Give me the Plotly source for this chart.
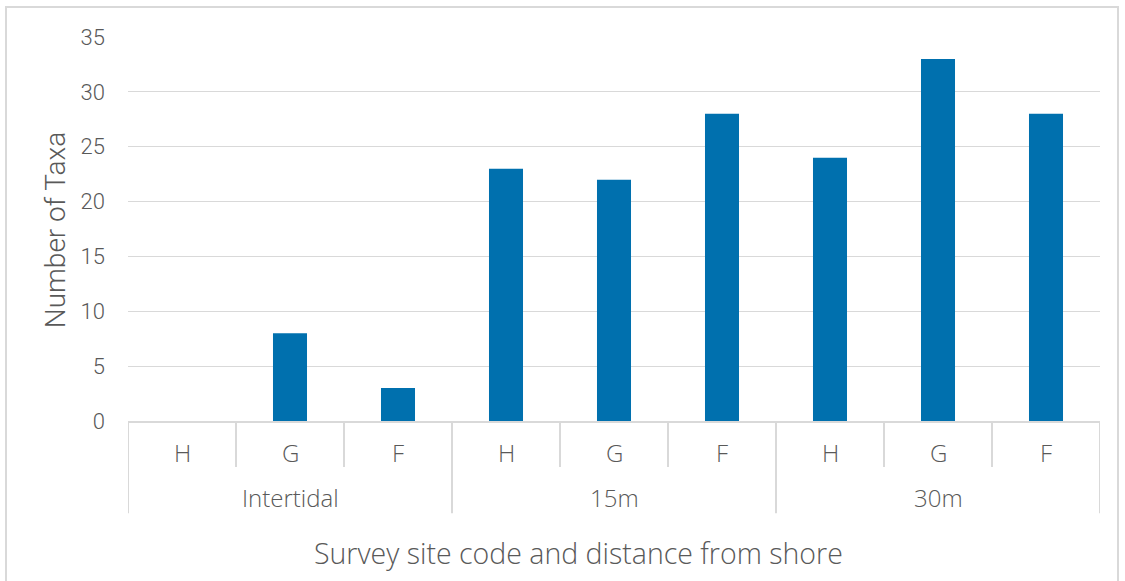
import plotly.graph_objects as go

# Survey data: site code within each distance band
distance_bands = ["Intertidal", "15m", "30m"]
site_codes = ["H", "G", "F", "H", "G", "F", "H", "G", "F"]
taxa_counts = [0, 8, 3, 23, 22, 28, 24, 33, 28]

y_ticks = [0, 5, 10, 15, 20, 25, 30, 35]

BAR_COLOR = "#0070AE"
TEXT_COLOR = "#595959"
LINE_COLOR = "#D9D9D9"
LABEL_FONT = "Open Sans"
NUM_FONT = "Roboto"
LIGHT = 300

positions = list(range(len(site_codes)))
per_band = len(site_codes) // len(distance_bands)

fig = go.Figure()
fig.add_trace(go.Bar(
    x=positions,
    y=taxa_counts,
    customdata=[[distance_bands[i // per_band], site_codes[i]] for i in positions],
    hovertemplate="%{customdata[0]} %{customdata[1]}: %{y}<extra></extra>",
    marker=dict(color=BAR_COLOR, line=dict(width=0)),
))

fig.update_layout(
    width=1125, height=581,
    margin=dict(l=128, r=25, t=37, b=160),
    paper_bgcolor="white",
    plot_bgcolor="white",
    bargap=0.685,
    showlegend=False,
    font=dict(family=LABEL_FONT, color=TEXT_COLOR),
)

fig.update_xaxes(
    range=[-0.5, len(site_codes) - 0.5],
    showticklabels=False, ticks="", showgrid=False, zeroline=False,
    showline=True, linecolor=LINE_COLOR, linewidth=2,
)

fig.update_yaxes(
    range=[0, 35], tickvals=y_ticks,
    showgrid=True, gridcolor=LINE_COLOR, gridwidth=1.3,
    zeroline=False, showline=False, ticks="",
    tickfont=dict(size=22, color=TEXT_COLOR, family=NUM_FONT, weight=LIGHT),
    ticklabelstandoff=22,
)

# two-level category axis: inner site codes, outer distance bands
inner_bottom = -0.12
outer_bottom = -0.24
for i, code in enumerate(site_codes):
    fig.add_annotation(x=i, y=-0.081, xref="x", yref="paper", text=code,
                       showarrow=False, yanchor="middle",
                       font=dict(size=24, color=TEXT_COLOR, family=LABEL_FONT, weight=LIGHT))
for b in range(len(site_codes) + 1):
    is_outer = b % per_band == 0
    fig.add_shape(type="line", xref="x", yref="paper",
                  x0=b - 0.5, x1=b - 0.5, y0=0,
                  y1=outer_bottom if is_outer else inner_bottom,
                  line=dict(color=LINE_COLOR, width=2))
for g, band in enumerate(distance_bands):
    fig.add_annotation(x=g * per_band + (per_band - 1) / 2, y=-0.198,
                       xref="x", yref="paper", text=band,
                       showarrow=False, yanchor="middle",
                       font=dict(size=24, color=TEXT_COLOR, family=LABEL_FONT, weight=LIGHT))

# axis titles
fig.add_annotation(x=0.463, y=-0.344, xref="paper", yref="paper",
                   text="Survey site code and distance from shore",
                   showarrow=False, yanchor="middle",
                   font=dict(size=28.5, color=TEXT_COLOR, family=LABEL_FONT, weight=LIGHT))
fig.add_annotation(x=-0.075, y=0.497, xref="paper", yref="paper",
                   text="Number of Taxa", textangle=-90,
                   showarrow=False, xanchor="center", yanchor="middle",
                   font=dict(size=28, color=TEXT_COLOR, family=NUM_FONT, weight=LIGHT))

# chart border
fig.add_shape(type="rect", xref="paper", yref="paper",
              x0=-0.1255, x1=1.0185, y0=-0.45, y1=1.078,
              line=dict(color=LINE_COLOR, width=2), layer="below")

fig.write_html("out.html")
